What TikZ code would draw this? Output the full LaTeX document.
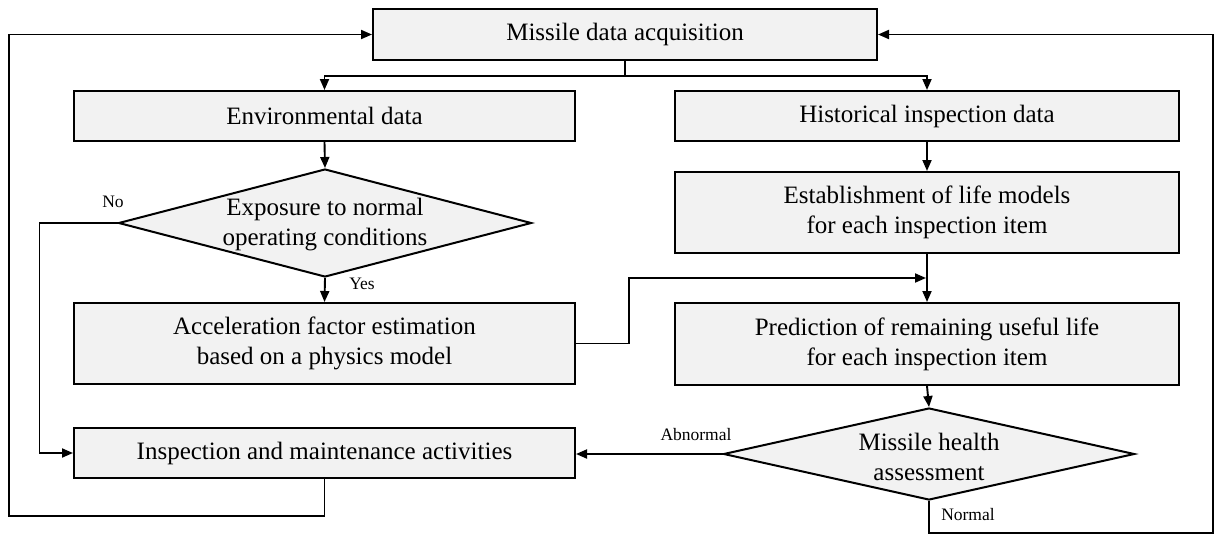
\documentclass[tikz,border=0pt]{standalone}
\usepackage{fontspec}
\setmainfont{LiberationSerif}[Extension=.ttf,UprightFont=*-Regular,BoldFont=*-Bold,ItalicFont=*-Italic]
\usetikzlibrary{arrows.meta,shapes.geometric,calc}
\definecolor{boxfill}{RGB}{242,242,242}
\begin{document}
\begin{tikzpicture}[x=1pt,y=-1pt,
  box/.style={draw=black,line width=2pt,fill=boxfill,inner sep=0pt,align=center,font=\fontsize{25}{30}\selectfont},
  dia/.style={draw=black,line width=2pt,fill=boxfill,shape=diamond,inner sep=0pt},
  txt/.style={align=center,font=\fontsize{25}{30}\selectfont,inner sep=0pt},
  lbl/.style={font=\fontsize{17.5}{20}\selectfont,inner sep=0pt},
  line/.style={line width=1.9pt},
  arr/.style={line width=1.9pt,-{Triangle[length=11pt,width=9pt]}}]
\useasboundingbox (0,0) rectangle (1217,536);
% boxes
\node[box,minimum width=504pt,minimum height=51pt] (msda) at (625,34.5) {Missile data acquisition};
\node[box,minimum width=501pt,minimum height=50pt] (env) at (324.5,116) {Environmental data};
\node[box,minimum width=504pt,minimum height=50pt] (hist) at (927,116) {Historical inspection data};
\node[box,minimum width=504pt,minimum height=81pt] (est) at (927,212.5) {Establishment of life models\\for each inspection item};
\node[box,minimum width=501pt,minimum height=81pt] (accel) at (324.5,343.5) {Acceleration factor estimation\\based on a physics model};
\node[box,minimum width=504pt,minimum height=82pt] (pred) at (927,344) {Prediction of remaining useful life\\for each inspection item};
\node[box,minimum width=501pt,minimum height=50pt] (insp) at (324.5,453) {Inspection and maintenance activities};
% decisions
\node[dia,minimum width=413pt,minimum height=108pt] (dec1) at (325,223) {};
\node[txt] (dec1t) at (325,225) {Exposure to normal\\operating conditions};
\node[dia,minimum width=411pt,minimum height=92pt] (dec2) at (929,454) {};
\node[txt] (dec2t) at (929,457) {Missile health\\assessment};
% labels
\node[lbl] (lno) at (113,202) {No};
\node[lbl] (lyes) at (362,284) {Yes};
\node[lbl] (labn) at (696,435) {Abnormal};
\node[lbl] (lnor) at (968,515) {Normal};
% connectors
\draw[line] (msda.south) -- ++(0,15) coordinate (split);
\draw[arr] (split) -| (env.north);
\draw[arr] (split) -| (hist.north);
\draw[arr] (env.south) -- (dec1.north);
\draw[arr] (dec1.south) -- (accel.north);
\draw[arr] (dec1.west) -- ++(-78,0) |- (insp.west);
\draw[arr] (hist.south) -- (est.north);
\draw[arr] (est.south) -- (pred.north);
\coordinate (j) at ($(est.south)!0.5!(pred.north)$);
\draw[arr,shorten >=1pt] (accel.east) -- ++(53,0) |- (j);
\draw[arr] (pred.south) -- (dec2.north);
\draw[arr] (dec2.west) -- (dec2.west -| insp.east);
\coordinate (rb) at (1213,533);
\draw[arr] (dec2.south) |- (rb) |- (msda.east);
\coordinate (lb) at (9,516);
\draw[arr] (insp.south) |- (lb) |- (msda.west);
\end{tikzpicture}
\end{document}
